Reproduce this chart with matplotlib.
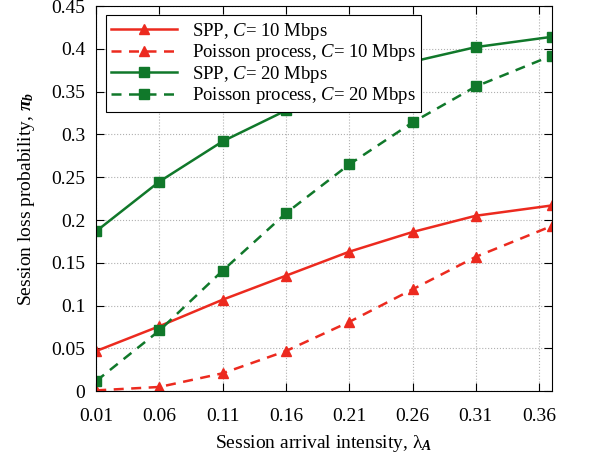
import matplotlib
matplotlib.use('Agg')
import matplotlib.pyplot as plt

plt.rcParams['font.family'] = ['Liberation Serif', 'DejaVu Serif']
plt.rcParams['mathtext.fontset'] = 'custom'
plt.rcParams['mathtext.rm'] = 'Liberation Serif'
plt.rcParams['mathtext.it'] = 'Liberation Serif:italic'
plt.rcParams['mathtext.bf'] = 'Liberation Serif:bold'
plt.rcParams['mathtext.bfit'] = 'Liberation Serif:italic:bold'

lam = [0.01, 0.06, 0.11, 0.16, 0.21, 0.26, 0.31, 0.37]
spp_10 = [0.047, 0.076, 0.107, 0.135, 0.163, 0.186, 0.205, 0.217]
poisson_10 = [0.001, 0.005, 0.021, 0.047, 0.081, 0.119, 0.157, 0.193]
spp_20 = [0.187, 0.245, 0.292, 0.328, 0.358, 0.385, 0.402, 0.414]
poisson_20 = [0.012, 0.071, 0.141, 0.208, 0.265, 0.314, 0.356, 0.392]

xtick_vals = [0.01, 0.06, 0.11, 0.16, 0.21, 0.26, 0.31, 0.36]
xtick_labels = ['0.01', '0.06', '0.11', '0.16', '0.21', '0.26', '0.31', '0.36']
ytick_vals = [0, 0.05, 0.1, 0.15, 0.2, 0.25, 0.3, 0.35, 0.4, 0.45]
ytick_labels = ['0', '0.05', '0.1', '0.15', '0.2', '0.25', '0.3', '0.35', '0.4', '0.45']

red = '#ec2a1f'
green = '#10782a'

fig = plt.figure(figsize=(6.13, 4.63), dpi=100)
ax = fig.add_axes([0.157, 0.155, 0.743, 0.832])

ax.plot(lam, spp_10, color=red, lw=1.8, marker='^', ms=7.5, label='SPP, $C$= 10 Mbps')
ax.plot(lam, poisson_10, color=red, lw=1.8, ls=(0, (4, 3)), marker='^', ms=7.5,
        label='Poisson process, $C$= 10 Mbps')
ax.plot(lam, spp_20, color=green, lw=1.8, marker='s', ms=6.5, label='SPP, $C$= 20 Mbps')
ax.plot(lam, poisson_20, color=green, lw=1.8, ls=(0, (4, 3)), marker='s', ms=6.5,
        label='Poisson process, $C$= 20 Mbps')

ax.set_xlim(0.01, 0.37)
ax.set_ylim(0, 0.45)
ax.set_xticks(xtick_vals)
ax.set_xticklabels(xtick_labels)
ax.set_yticks(ytick_vals)
ax.set_yticklabels(ytick_labels)
ax.tick_params(direction='in', top=True, right=True, length=6, labelsize=14)
ax.tick_params(axis='x', pad=12)
ax.tick_params(axis='y', pad=8)
ax.grid(True, ls=':', color='#b0b0b0', lw=0.8)

ax.set_xlabel('Session arrival intensity, λ$_{\\mathbfit{A}}$', fontsize=14, labelpad=6)
ax.set_ylabel('Session loss probability, $\\mathbfit{\\pi}_{\\mathbfit{b}}$', fontsize=14, labelpad=10)

leg = ax.legend(loc='upper left', fontsize=13.5, fancybox=False, edgecolor='black',
                framealpha=1, handlelength=3.5, borderpad=0.3, labelspacing=0.02,
                borderaxespad=0.5)
leg.get_frame().set_linewidth(0.8)

fig.savefig('out.png', dpi=100)
